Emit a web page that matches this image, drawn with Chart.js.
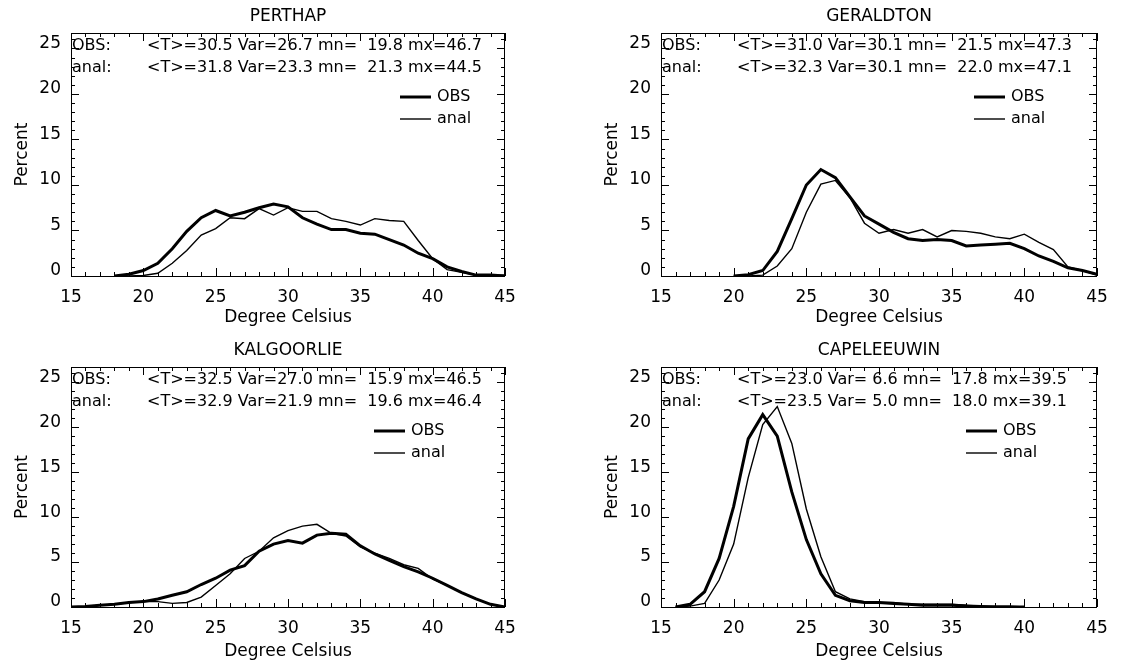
<!DOCTYPE html>
<html>
<head>
<meta charset="utf-8">
<script src="https://cdn.jsdelivr.net/npm/chart.js@4/dist/chart.umd.min.js"></script>
<style>
  html, body { margin: 0; padding: 0; background: #fff; }
  #wrap { position: relative; width: 1147px; height: 671px; overflow: hidden; }
  .panel { position: absolute; }
</style>
</head>
<body>
<div id="wrap"></div>
<script>
// tick labels
const xTicks = [15, 20, 25, 30, 35, 40, 45];
const yTicks = [0, 5, 10, 15, 20, 25];

const stations = ['PERTHAP', 'GERALDTON', 'KALGOORLIE', 'CAPELEEUWIN'];

// PERTHAP
const perthDeg  = [18, 19, 20, 21, 22, 23, 24, 25, 26, 27, 28, 29, 30, 31, 32, 33, 34, 35, 36, 37, 38, 39, 40, 41, 42, 43, 44, 45];
const perthObs  = [0.0, 0.2, 0.6, 1.4, 3.0, 4.9, 6.4, 7.2, 6.6, 7.0, 7.5, 7.9, 7.6, 6.4, 5.7, 5.1, 5.1, 4.7, 4.6, 4.0, 3.4, 2.5, 1.9, 1.0, 0.5, 0.1, 0.1, 0.0];
const perthAnal = [0.0, 0.0, 0.05, 0.3, 1.4, 2.8, 4.5, 5.2, 6.4, 6.3, 7.4, 6.7, 7.5, 7.1, 7.1, 6.3, 6.0, 5.6, 6.3, 6.1, 6.0, 3.9, 1.9, 0.7, 0.4, 0.1, 0.1, 0.1];

// GERALDTON
const gerDeg  = [20, 21, 22, 23, 24, 25, 26, 27, 28, 29, 30, 31, 32, 33, 34, 35, 36, 37, 38, 39, 40, 41, 42, 43, 44, 45];
const gerObs  = [0.0, 0.15, 0.6, 2.7, 6.3, 10.0, 11.7, 10.8, 8.7, 6.6, 5.7, 4.8, 4.1, 3.9, 4.0, 3.9, 3.3, 3.4, 3.5, 3.6, 3.0, 2.2, 1.6, 0.9, 0.6, 0.2];
const gerAnal = [0.0, 0.0, 0.1, 1.1, 3.0, 7.0, 10.1, 10.5, 8.6, 5.8, 4.7, 5.1, 4.7, 5.1, 4.3, 5.0, 4.9, 4.7, 4.3, 4.1, 4.6, 3.7, 2.9, 1.0, 0.6, 0.1];

// KALGOORLIE
const kalDeg  = [15, 16, 17, 18, 19, 20, 21, 22, 23, 24, 25, 26, 27, 28, 29, 30, 31, 32, 33, 34, 35, 36, 37, 38, 39, 40, 41, 42, 43, 44, 45];
const kalObs  = [0.0, 0.05, 0.2, 0.3, 0.5, 0.6, 0.9, 1.3, 1.7, 2.5, 3.2, 4.1, 4.6, 6.2, 7.0, 7.4, 7.1, 8.0, 8.2, 8.1, 6.8, 5.9, 5.2, 4.5, 3.9, 3.2, 2.4, 1.6, 0.9, 0.3, 0.0];
const kalAnal = [0.0, 0.05, 0.2, 0.3, 0.5, 0.6, 0.6, 0.4, 0.5, 1.1, 2.4, 3.7, 5.4, 6.2, 7.7, 8.5, 9.0, 9.2, 8.2, 7.9, 6.7, 6.0, 5.4, 4.7, 4.3, 3.1, 2.4, 1.6, 0.9, 0.3, 0.0];

// CAPELEEUWIN
const capeDeg  = [16, 17, 18, 19, 20, 21, 22, 23, 24, 25, 26, 27, 28, 29, 30, 31, 32, 33, 34, 35, 36, 37, 38, 39, 40];
const capeObs  = [0.0, 0.3, 1.7, 5.4, 11.2, 18.7, 21.4, 19.0, 12.8, 7.5, 3.7, 1.3, 0.7, 0.5, 0.5, 0.4, 0.3, 0.2, 0.2, 0.2, 0.1, 0.05, 0.0, 0.0, 0.0];
const capeAnal = [0.0, 0.1, 0.4, 3.0, 7.0, 14.4, 20.3, 22.3, 18.2, 10.9, 5.6, 1.7, 0.9, 0.6, 0.5, 0.5, 0.3, 0.3, 0.3, 0.3, 0.2, 0.1, 0.1, 0.1, 0.0];

// stats lines printed in each panel
const obsStats  = ['<T>=30.5 Var=26.7 mn=  19.8 mx=46.7', '<T>=31.0 Var=30.1 mn=  21.5 mx=47.3', '<T>=32.5 Var=27.0 mn=  15.9 mx=46.5', '<T>=23.0 Var= 6.6 mn=  17.8 mx=39.5'];
const analStats = ['<T>=31.8 Var=23.3 mn=  21.3 mx=44.5', '<T>=32.3 Var=30.1 mn=  22.0 mx=47.1', '<T>=32.9 Var=21.9 mn=  19.6 mx=46.4', '<T>=23.5 Var= 5.0 mn=  18.0 mx=39.1'];

Chart.defaults.font.family = 'DejaVu Sans';
Chart.defaults.color = '#000';

const tickFont = { size: 17 };
const textFont = '16px "DejaVu Sans"';
const titleFont = '17px "DejaVu Sans"';

// box: canvas [left, top, w, h]; area: plot [L, T, R, B] in page coords
const panels = [
  { deg: perthDeg, obs: perthObs, anal: perthAnal, box: [0, 0, 573, 335],     area: [71, 33, 505, 276],   legX: 329, xPad: 7, yPad: 12 },
  { deg: gerDeg,   obs: gerObs,   anal: gerAnal,   box: [573, 0, 574, 335],   area: [661, 33, 1097, 276], legX: 313, xPad: 7, yPad: 29 },
  { deg: kalDeg,   obs: kalObs,   anal: kalAnal,   box: [0, 335, 573, 336],   area: [71, 367, 505, 607],  legX: 303, xPad: 9, yPad: 12 },
  { deg: capeDeg,  obs: capeObs,  anal: capeAnal,  box: [573, 335, 574, 336], area: [661, 367, 1097, 607], legX: 305, xPad: 9, yPad: 29 }
];

// box, inward ticks, title, stats text and legend
const frame = {
  id: 'frame',
  afterDraw(chart, args, opts) {
    const { ctx, chartArea: a } = chart;
    const xs = chart.scales.x, ys = chart.scales.y;
    ctx.save();
    ctx.strokeStyle = '#000';
    ctx.lineWidth = 1;
    ctx.strokeRect(a.left + 0.5, a.top + 0.5, a.right - a.left - 1, a.bottom - a.top);
    ctx.beginPath();
    for (let v = xs.min; v <= xs.max; v++) {
      const len = v % 5 ? 4 : 8;
      const px = Math.round(xs.getPixelForValue(v)) + 0.5;
      ctx.moveTo(px, a.bottom); ctx.lineTo(px, a.bottom - len);
      ctx.moveTo(px, a.top); ctx.lineTo(px, a.top + len);
    }
    for (let v = ys.min; v <= ys.max; v++) {
      const len = v % 5 ? 4 : 8;
      const py = Math.round(ys.getPixelForValue(v)) + 0.5;
      ctx.moveTo(a.left, py); ctx.lineTo(a.left + len, py);
      ctx.moveTo(a.right, py); ctx.lineTo(a.right - len, py);
    }
    ctx.stroke();

    ctx.fillStyle = '#000';
    ctx.textBaseline = 'middle';
    ctx.textAlign = 'center';
    ctx.font = titleFont;
    ctx.fillText(opts.title, (a.left + a.right) / 2, a.top - 16);

    ctx.font = textFont;
    ctx.textAlign = 'left';
    ctx.fillText('OBS:', a.left + 1, a.top + 13);
    ctx.fillText(opts.obsText, a.left + 76, a.top + 13);
    ctx.fillText('anal:', a.left + 1, a.top + 35);
    ctx.fillText(opts.analText, a.left + 76, a.top + 35);

    chart.data.datasets.forEach((ds, i) => {
      const y = a.top + 64 + i * 22;
      const x0 = a.left + opts.legX;
      ctx.lineWidth = ds.borderWidth;
      ctx.beginPath();
      ctx.moveTo(x0, y); ctx.lineTo(x0 + 31, y);
      ctx.stroke();
      ctx.fillText(ds.label, x0 + 37, y);
    });
    ctx.restore();
  }
};

const wrap = document.getElementById('wrap');

panels.forEach((p, k) => {
  const [cx, cy, w, h] = p.box;
  const [L, T, R, B] = p.area;
  const div = document.createElement('div');
  div.className = 'panel';
  div.style.left = cx + 'px';
  div.style.top = cy + 'px';
  const cv = document.createElement('canvas');
  cv.width = w; cv.height = h;
  cv.style.width = w + 'px'; cv.style.height = h + 'px';
  div.appendChild(cv);
  wrap.appendChild(div);

  new Chart(cv, {
    type: 'line',
    data: {
      datasets: [
        { label: 'OBS',  data: p.deg.map((d, i) => ({ x: d, y: p.obs[i] })),  borderColor: '#000', borderWidth: 3,   pointRadius: 0, tension: 0, fill: false },
        { label: 'anal', data: p.deg.map((d, i) => ({ x: d, y: p.anal[i] })), borderColor: '#000', borderWidth: 1.4, pointRadius: 0, tension: 0, fill: false }
      ]
    },
    options: {
      responsive: false,
      animation: false,
      events: [],
      layout: { padding: { top: T - cy, right: cx + w - R, left: 0, bottom: 0 } },
      plugins: {
        legend: { display: false },
        tooltip: { enabled: false },
        frame: { title: stations[k], obsText: obsStats[k], analText: analStats[k], legX: p.legX }
      },
      scales: {
        x: {
          type: 'linear', min: 15, max: 45,
          afterBuildTicks: s => { s.ticks = xTicks.map(v => ({ value: v })); },
          afterFit: s => { s.height = cy + h - B; },
          grid: { display: false, drawTicks: false },
          border: { display: false },
          ticks: { padding: 11, font: tickFont, maxRotation: 0, autoSkip: false },
          title: { display: true, text: 'Degree Celsius', font: tickFont, padding: { top: 0, bottom: p.xPad } }
        },
        y: {
          type: 'linear', min: 0, max: 26.7,
          afterBuildTicks: s => { s.ticks = yTicks.map(v => ({ value: v })); },
          afterFit: s => { s.width = L - cx; },
          grid: { display: false, drawTicks: false },
          border: { display: false },
          ticks: { padding: 10, font: tickFont, autoSkip: false, labelOffset: -5 },
          title: { display: true, text: 'Percent', font: tickFont, padding: { top: p.yPad, bottom: 0 } }
        }
      }
    },
    plugins: [frame]
  });
});
</script>
</body>
</html>
